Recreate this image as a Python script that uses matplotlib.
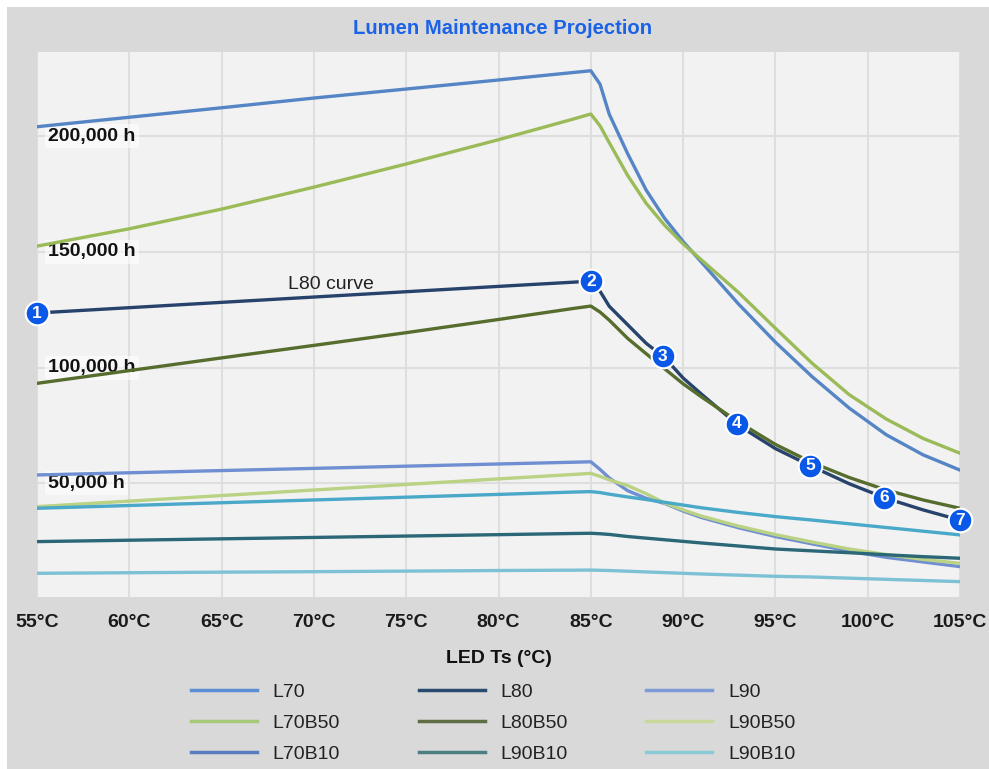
import numpy as np
import matplotlib
matplotlib.use("Agg")
import matplotlib.pyplot as plt
from matplotlib.lines import Line2D
from matplotlib.patches import Rectangle

plt.rcParams['font.family'] = ['Liberation Sans', 'DejaVu Sans']

# ---------------- data (hours, in thousands) ----------------
temps = [55, 60, 65, 70, 75, 80, 84, 85, 85.5, 86, 87, 88, 89, 90, 91, 93, 95, 97, 99, 101, 103, 105]

L70 = [204.1, 208.2, 212.3, 216.5, 220.4, 224.3, 227.5, 228.3, 222.5, 209.5, 192.4, 176.7, 164.5, 154.5,
       145.5, 127.5, 111.0, 96.0, 82.5, 71.0, 62.3, 55.7]
L70B50 = [152.5, 160.0, 168.5, 178.0, 188.0, 198.5, 207.3, 209.6, 204.5, 197.2, 183.0, 171.0, 161.5, 153.5,
          146.5, 132.5, 117.0, 101.8, 88.3, 77.8, 69.4, 63.0]
L80 = [123.6, 125.9, 128.2, 130.5, 132.8, 135.1, 136.9, 137.4, 133.0, 126.5, 118.5, 110.5, 104.3, 95.5,
       88.5, 75.0, 65.0, 57.2, 49.8, 43.5, 38.5, 34.1]
L80B50 = [93.2, 98.7, 104.2, 109.6, 115.1, 120.8, 125.5, 126.6, 124.0, 120.5, 112.6, 106.0, 99.5, 93.0,
          87.3, 76.5, 66.8, 58.9, 52.5, 47.1, 42.8, 39.2]
L90 = [53.6, 54.55, 55.5, 56.45, 57.4, 58.35, 59.1, 59.3, 56.0, 52.3, 46.8, 43.5, 41.3, 38.0,
       35.2, 30.8, 27.0, 23.8, 20.7, 18.0, 16.0, 14.0]
L90B50 = [39.9, 42.3, 44.7, 47.1, 49.5, 51.9, 53.8, 54.3, 53.0, 51.5, 49.0, 45.5, 41.5, 38.5,
          35.8, 31.5, 27.8, 24.6, 21.6, 19.2, 17.1, 15.4]
L70B10 = [39.2, 40.4, 41.6, 42.8, 44.0, 45.2, 46.2, 46.4, 46.0, 45.3, 44.1, 43.0, 41.8, 40.6,
          39.4, 37.4, 35.6, 34.1, 32.5, 30.9, 29.3, 27.7]
L90B10_a = [24.8, 25.4, 26.0, 26.6, 27.2, 27.8, 28.3, 28.4, 28.2, 27.9, 27.0, 26.3, 25.6, 24.9,
            24.2, 22.9, 21.6, 20.8, 20.0, 19.1, 18.3, 17.6]
L90B10_b = [11.1, 11.35, 11.6, 11.8, 12.05, 12.3, 12.45, 12.5, 12.4, 12.3, 12.0, 11.7, 11.4, 11.1,
            10.8, 10.3, 9.8, 9.5, 9.0, 8.5, 8.0, 7.5]

series_names = ["L70", "L80", "L90", "L70B50", "L80B50", "L90B50", "L70B10", "L90B10", "L90B10"]
series_values = [L70, L80, L90, L70B50, L80B50, L90B50, L70B10, L90B10_a, L90B10_b]
line_colors = ["#5585c5", "#27436b", "#6f8fd2", "#9bbb59", "#566d2e", "#b9d283", "#4aa8c8", "#2b6776", "#7cc2d4"]
legend_colors = ["#5b8fd3", "#2a4a70", "#7f9ad8", "#a9c97a", "#5f6e45", "#c8d89a", "#5a7dc0", "#4d7f82", "#8bcbd5"]

marker_temps = [55, 85, 88.9, 92.9, 96.9, 100.9, 105]
marker_labels = ["1", "2", "3", "4", "5", "6", "7"]

x_ticks = [55, 60, 65, 70, 75, 80, 85, 90, 95, 100, 105]
x_tick_labels = [f"{t}°C" for t in x_ticks]
y_ticks = [50000, 100000, 150000, 200000]
y_tick_labels = ["50,000 h", "100,000 h", "150,000 h", "200,000 h"]

title = "Lumen Maintenance Projection"
x_label = "LED Ts (°C)"
curve_note = "L80 curve"

# ---------------- figure ----------------
W, H = 989, 769
fig = plt.figure(figsize=(W / 100, H / 100), dpi=100)
fig.patch.set_facecolor("white")
fig.patches.append(Rectangle((7 / W, 0), 1 - 7 / W, 1 - 7 / H, transform=fig.transFigure,
                             facecolor="#d9d9d9", edgecolor="none", zorder=-10))

ax = fig.add_axes([37 / W, 1 - 597 / H, (960 - 37) / W, (597 - 52) / H])
ax.set_facecolor("#f2f2f2")
for s in ax.spines.values():
    s.set_visible(False)

t = np.array(temps)
for name, vals, col in zip(series_names, series_values, line_colors):
    ax.plot(t, np.array(vals) * 1000, color=col, lw=2.4, solid_capstyle="round",
            solid_joinstyle="round", zorder=3)

ax.set_xlim(55, 105)
ax.set_ylim(860, 236400)

ax.set_xticks(x_ticks)
ax.set_xticklabels(x_tick_labels, fontsize=14, fontweight="bold", color="#1a1a1a")
ax.set_yticks(y_ticks)
ax.set_yticklabels(y_tick_labels, fontsize=14, fontweight="bold", color="#111111")
ax.tick_params(axis="x", length=0, pad=12)
ax.tick_params(axis="y", length=0, pad=-8)
for lab in ax.get_yticklabels():
    lab.set_ha("left")
    lab.set_va("center")
    lab.set_zorder(6)
    lab.set_bbox(dict(facecolor="white", alpha=0.55, edgecolor="none", pad=2.5))

ax.grid(True, color="#dedede", lw=1.5, zorder=0)
ax.set_axisbelow(True)

ax.set_xlabel(x_label, fontsize=14, fontweight="bold", color="#111111", labelpad=14)
fig.text(503 / W, 1 - 28 / H, title, ha="center", va="center", fontsize=14.6,
         fontweight="bold", color="#1a62e6")

# L80 note
ax.text(70.9, np.interp(70.9, t, L80) * 1000 + 4800, curve_note, ha="center", va="center",
        fontsize=14, color="#222222", zorder=4)

# numbered markers on the L80 curve
mv = np.interp(marker_temps, t, np.array(L80) * 1000)
ax.scatter(marker_temps, mv, s=17 ** 2, c="#0a58e8", edgecolors="white", linewidths=1.5,
           zorder=7, clip_on=False)
for mt, v, lab in zip(marker_temps, mv, marker_labels):
    ax.text(mt, v, lab, ha="center", va="center", fontsize=12.5, fontweight="bold",
            color="white", zorder=8, clip_on=False)

# legend (row-wise order -> column-major handles)
handles = [Line2D([0], [0], color=c, lw=2.5) for c in legend_colors]
order = [0, 3, 6, 1, 4, 7, 2, 5, 8]
fig.legend([handles[i] for i in order], [series_names[i] for i in order],
           loc="center", bbox_to_anchor=(493 / W, 1 - 723 / H), ncol=3, frameon=False,
           fontsize=14, handlelength=3.4, handletextpad=0.8, columnspacing=4.05,
           labelspacing=0.68, labelcolor="#222222")

fig.savefig("out.png", dpi=100, facecolor=fig.get_facecolor())
